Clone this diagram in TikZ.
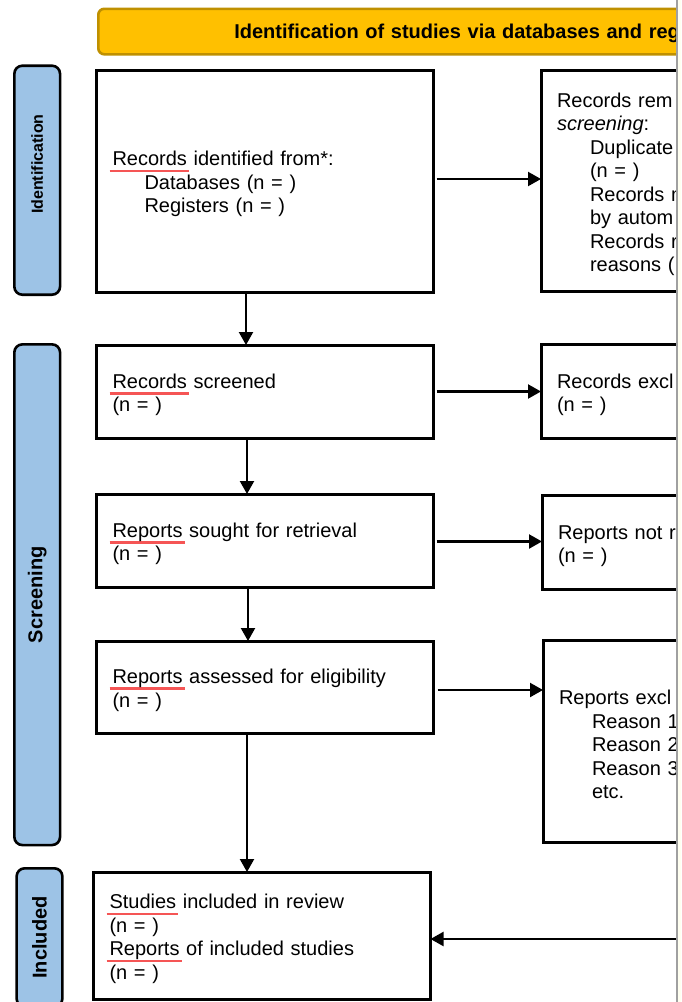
\documentclass[tikz,border=0pt]{standalone}
\usepackage{fontspec}
\setmainfont{Liberation Sans}
\usetikzlibrary{arrows.meta, positioning}
\definecolor{bannerGold} {RGB}{255, 192,   0}
\definecolor{bannerEdge} {RGB}{191, 144,   0}
\definecolor{phaseBlue}  {RGB}{157, 195, 230}
\definecolor{spellRed}   {RGB}{245,  85,  85}
\definecolor{frameGray}  {RGB}{160, 160, 160}
\definecolor{paneCream}  {RGB}{255, 255, 240}
\newcommand{\flowfont}{\fontsize{20}{23.5}\selectfont}
\newsavebox{\spellbox}
\newcommand{\spellmark}[1]{\sbox{\spellbox}{#1}%
  \makebox[0pt][l]{\hspace*{-3pt}\textcolor{spellRed}{\rule[-6.5pt]{\dimexpr\wd\spellbox+5pt\relax}{2.8pt}}}#1}
\tikzset{
  leftbox/.style  = {rectangle, draw=black, fill=white, line width=3pt, outer sep=0pt,
                     text width=305pt, inner xsep=16pt, align=left, font=\flowfont,
                     execute at begin node={\rule{0pt}{21pt}}},
  rightbox/.style = {leftbox, text width=260pt},
  phasebox/.style = {rectangle, rounded corners=8pt, draw=black, fill=phaseBlue,
                     line width=2.6pt, rotate=90, minimum height=45.7pt,
                     font=\bfseries\fontsize{20}{24}\selectfont},
  banner/.style   = {rectangle, rounded corners=6pt, draw=bannerEdge, fill=bannerGold,
                     line width=2.6pt, text width=520pt, inner xsep=136pt, align=left,
                     minimum height=45.5pt, text height=18pt,
                     font=\bfseries\fontsize{20}{24}\selectfont},
  arr/.style      = {-{Triangle[length=13pt, width=14pt]}, line width=2.2pt},
}

\begin{document}
\begin{tikzpicture}[x=1pt, y=-1pt]
\useasboundingbox (0,0) rectangle (681,1002);

\begin{scope}
\clip (0,0) rectangle (676,1002);

% ---- Banner -----------------------------------------------------------------
\node[banner, anchor=north west] (banner) at (97,7.5)
     {Identification of studies via databases and reg};

% ---- Phase labels -----------------------------------------------------------
\node[phasebox, minimum width=229pt, font=\bfseries\fontsize{16}{19}\selectfont]
     (identphase) at (37.2,180.2) {\hspace*{32pt}Identification};
\node[phasebox, minimum width=500.7pt] (screenphase) at (37.2,594.7) {Screening};
\node[phasebox, minimum width=138.4pt] (inclphase) at (39.5,937.5) {Included};

% ---- Left column ------------------------------------------------------------
\node[leftbox, minimum height=222pt, anchor=north west] (identified) at (96.5,70) {%
  \spellmark{Records} identified from*:\\
  \hspace*{32pt}Databases (n = )\\
  \hspace*{32pt}Registers (n = )};

\node[leftbox, minimum height=93pt, below=53pt of identified] (screened) {%
  \spellmark{Records} screened\\(n = )};

\node[leftbox, minimum height=93pt, below=56pt of screened] (sought) {%
  \spellmark{Reports} sought for retrieval\\(n = )};

\node[leftbox, minimum height=92pt, below=54pt of sought] (assessed) {%
  \spellmark{Reports} assessed for eligibility\\(n = )};

\node[leftbox, minimum height=127.5pt, below=139pt of assessed, xshift=-3pt] (included) {%
  \spellmark{Studies} included in review\\(n = )\\
  \spellmark{Reports} of included studies\\(n = )};

% ---- Right column -----------------------------------------------------------
\node[rightbox, minimum height=221pt, right=107.5pt of identified] (removed) {%
  Records rem\\\textit{screening}:\\
  \hspace*{33pt}Duplicate\\
  \hspace*{33pt}(n = )\\
  \hspace*{33pt}Records m\\
  \hspace*{33pt}by autom\\
  \hspace*{33pt}Records r\\
  \hspace*{33pt}reasons (};

\node[rightbox, minimum height=94pt, right=107.5pt of screened] (excluded) {%
  Records excl\\(n = )};

\node[rightbox, minimum height=94pt, right=108.5pt of sought, yshift=-2pt] (notretrieved) {%
  Reports not r\\(n = )};

\node[rightbox, minimum height=202pt, below=51pt of notretrieved.south west,
      anchor=north west, xshift=1pt] (reasons) {%
  Reports excl\\
  \hspace*{33pt}Reason 1\\
  \hspace*{33pt}Reason 2\\
  \hspace*{33pt}Reason 3\\
  \hspace*{33pt}etc.};

% ---- Arrows: down the left column -------------------------------------------
\draw[arr] ([xshift=-19pt]identified.south) -- ([xshift=-19pt]screened.north);
\draw[arr] ([xshift=-18pt]screened.south) -- ([xshift=-18pt]sought.north);
\draw[arr] ([xshift=-17pt]sought.south) -- ([xshift=-17pt]assessed.north);
\draw[arr] ([xshift=-18pt]assessed.south) -- ([xshift=-18pt]assessed.south |- included.north);

% ---- Arrows: across to the right --------------------------------------------
\draw[arr, shorten <=3pt] ([yshift=2pt]identified.east) -- ([yshift=2pt]identified.east -| removed.west);
\draw[arr, shorten <=3pt] (screened.east) -- (screened.east -| excluded.west);
\draw[arr, shorten <=3pt] ([yshift=-1pt]sought.east) -- ([yshift=-1pt]sought.east -| notretrieved.west);
\draw[arr, shorten <=4pt] ([yshift=-3pt]assessed.east) -- ([yshift=-3pt]assessed.east -| reasons.west);

% ---- Arrow in from the other sources ----------------------------------------
\coordinate (fromother) at (677,939);
\draw[arr] (fromother) -- (fromother -| included.east);
\end{scope}

% ---- Window edge ------------------------------------------------------------
\fill[paneCream] (677.5,0) rectangle (681,1002);
\draw[frameGray, line width=2pt] (676.5,0) -- (676.5,1002);

\end{tikzpicture}
\end{document}
